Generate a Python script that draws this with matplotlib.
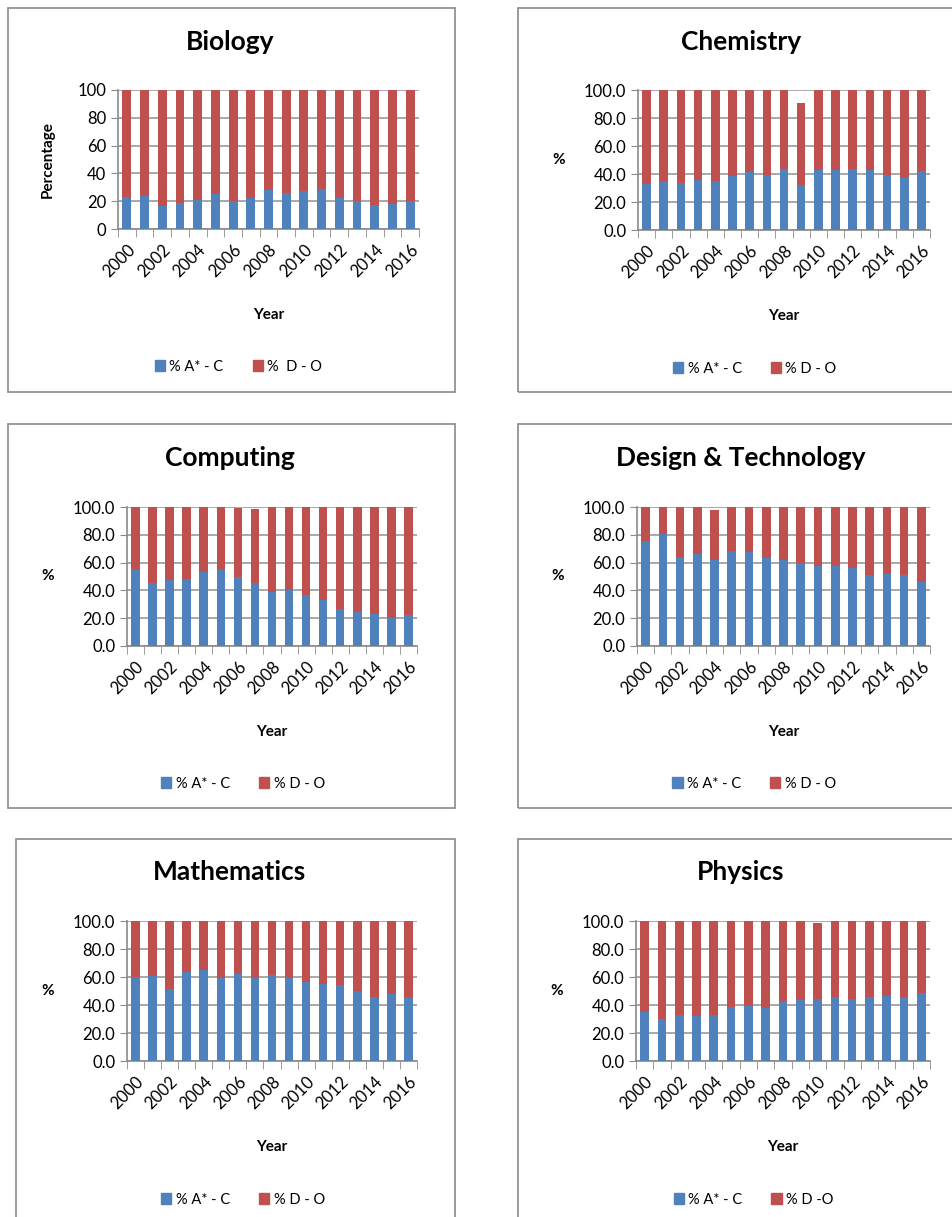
import matplotlib
matplotlib.use('Agg')
import matplotlib.pyplot as plt
from matplotlib.patches import Rectangle, Patch
import numpy as np

plt.rcParams['font.family'] = ['Lato', 'DejaVu Sans']

years = list(range(2000, 2017))
tick_labels = [str(y) for y in years[::2]]

# % A* - C and % D - O per subject
bio_ac = [23.0, 23.4, 16.5, 18.7, 21.0, 24.9, 20.3, 22.5, 28.2, 25.8, 27.0, 28.7, 22.2, 19.9, 17.2, 18.2, 19.9]
bio_total = [100] * 17

chem_ac = [33.0, 35.2, 33.7, 35.4, 35.2, 38.8, 41.1, 39.0, 43.5, 32.3, 42.6, 43.1, 43.8, 42.6, 39.0, 38.0, 42.3]
chem_total = [100, 100, 100, 100, 100, 100, 100, 100, 100, 90.4, 100, 100, 100, 100, 100, 100, 100]

comp_ac = [55.5, 45.5, 47.8, 48.3, 53.1, 54.5, 49.8, 45.5, 39.0, 40.2, 36.6, 33.0, 26.6, 24.4, 23.2, 19.9, 22.2]
comp_total = [100, 100, 100, 100, 100, 100, 99.5, 98.8, 100, 100, 100, 100, 100, 100, 100, 100, 100]

dt_ac = [75.6, 80.9, 64.1, 66.5, 62.2, 68.4, 67.7, 63.6, 62.2, 60.0, 57.9, 57.9, 56.0, 51.2, 51.7, 51.2, 46.2]
dt_total = [100, 100, 100, 100, 98.1, 100, 100, 100, 100, 100, 100, 100, 100, 100, 100, 100, 100]

math_ac = [60.3, 60.8, 51.4, 63.6, 65.3, 59.6, 62.2, 59.6, 61.5, 59.1, 56.7, 55.0, 54.1, 50.0, 45.9, 47.8, 45.9]
math_total = [100] * 17

phys_ac = [35.2, 29.9, 32.8, 31.8, 33.0, 38.5, 39.0, 38.0, 42.6, 43.3, 44.3, 45.5, 44.3, 45.9, 46.2, 45.5, 48.8]
phys_total = [100, 100, 100, 100, 100, 100, 100, 100, 100, 100, 98.8, 100, 100, 100, 100, 100, 100]

BLUE = '#4F81BD'
RED = '#C0504D'

W, H = 953, 1217
fig = plt.figure(figsize=(W / 100, H / 100), dpi=100)


def box(x0, y0, x1, y1):
    # pixel box (top-left origin) -> figure fraction rect
    return [x0 / W, 1 - y1 / H, (x1 - x0) / W, (y1 - y0) / H]


def panel(frame, plot, title, title_xy, ac, total, ylab, fmt, d_lab):
    fig.patches.append(Rectangle(frame[:2], frame[2], frame[3], transform=fig.transFigure,
                                 fill=False, edgecolor='#8a8a8a', linewidth=1.2))
    ax = fig.add_axes(plot)
    x = np.arange(len(years))
    ac = np.array(ac)
    do = np.array(total) - ac
    ax.bar(x, ac, width=0.5, color=BLUE, zorder=3)
    ax.bar(x, do, width=0.5, bottom=ac, color=RED, zorder=3)
    ax.set_xlim(-0.5, len(years) - 0.5)
    ax.set_ylim(0, 100)
    ax.set_yticks(range(0, 101, 20))
    ax.set_yticklabels([fmt.format(v) for v in range(0, 101, 20)], fontsize=12)
    ax.yaxis.grid(True, color='#9a9a9a', linewidth=1.2, zorder=0)
    ax.set_xticks(x[::2])
    ax.set_xticklabels(tick_labels, rotation=45, ha='right', rotation_mode='anchor', fontsize=12)
    ax.tick_params(axis='x', length=0, pad=9)
    ax.set_xticks(np.arange(-0.5, len(years)), minor=True)
    ax.tick_params(axis='x', which='minor', length=6, color='#8a8a8a')
    ax.tick_params(axis='y', length=5, color='#8a8a8a')
    for s in ['top', 'right']:
        ax.spines[s].set_visible(False)
    for s in ['left', 'bottom']:
        ax.spines[s].set_color('#8a8a8a')
        ax.spines[s].set_linewidth(1.2)
    fig.text(title_xy[0] / W, 1 - title_xy[1] / H, title, fontsize=19, fontweight='bold',
             ha='center', va='center')
    ax.set_xlabel('Year', fontsize=11, fontweight='bold', labelpad=20)
    if ylab == 'Percentage':
        ax.set_ylabel(ylab, fontsize=11, fontweight='bold', labelpad=16)
    else:
        ax.set_ylabel(ylab, fontsize=11, fontweight='bold', rotation=0, labelpad=18, va='center')
    ax.legend(handles=[Patch(color=BLUE, label='% A* - C'), Patch(color=RED, label=d_lab)],
              loc='center', bbox_to_anchor=(0.4, -0.99), ncol=2, frameon=False,
              fontsize=10.5, handlelength=0.7, handleheight=0.7, columnspacing=2.0, handletextpad=0.3)
    return ax


panel(box(8, 8, 455, 392), box(118, 90, 419, 229), 'Biology', (230, 42), bio_ac, bio_total, 'Percentage', '{:d}', '%  D - O')
panel(box(518, 8, 960, 392), box(638, 90, 930, 230), 'Chemistry', (741, 42), chem_ac, chem_total, '%', '{:.1f}', '% D - O')
panel(box(8, 424, 455, 808), box(127, 507, 417, 646), 'Computing', (230, 458), comp_ac, comp_total, '%', '{:.1f}', '% D - O')
panel(box(518, 424, 960, 808), box(637, 507, 930, 646), 'Design & Technology', (741, 458), dt_ac, dt_total, '%', '{:.1f}', '% D - O')
panel(box(16, 839, 455, 1225), box(127, 921, 417, 1061), 'Mathematics', (230, 872), math_ac, math_total, '%', '{:.1f}', '% D - O')
panel(box(518, 839, 960, 1225), box(636, 921, 930, 1061), 'Physics', (741, 872), phys_ac, phys_total, '%', '{:.1f}', '% D -O')

fig.savefig('out.png', dpi=100)
